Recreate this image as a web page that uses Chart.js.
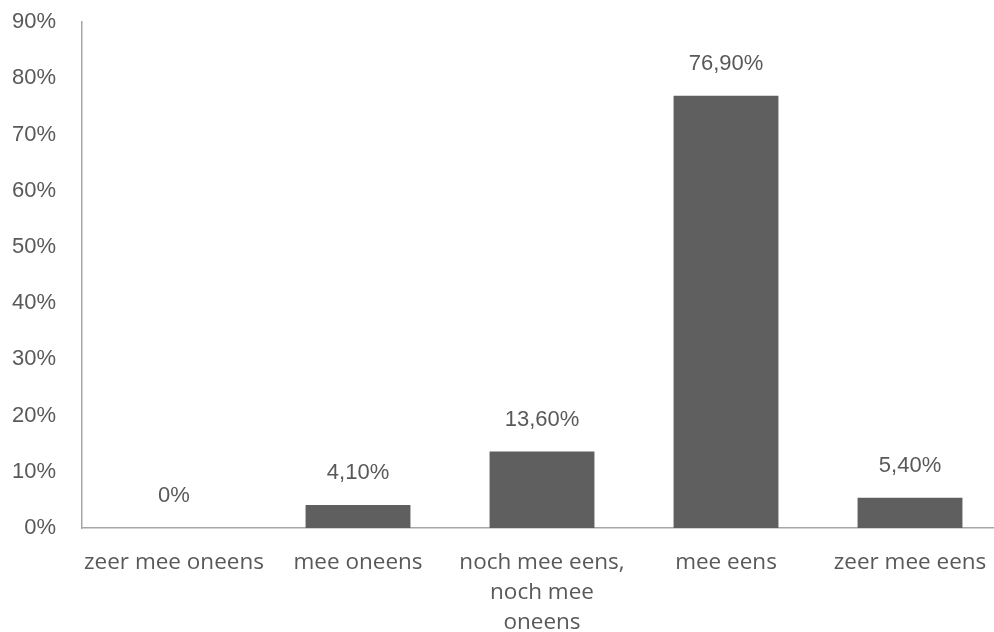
<!DOCTYPE html>
<html lang="nl">
<head>
  <meta charset="UTF-8" />
  <title>Mee eens / oneens</title>
  <script src="https://cdn.jsdelivr.net/npm/chart.js"></script>
  <style>
    html, body { margin: 0; padding: 0; background: #fff; overflow: hidden; }
    .frame { width: 994px; height: 632px; overflow: hidden; }
    .wrap { width: 1010px; height: 632px; position: relative; }
  </style>
</head>
<body>
  <div class="frame"><div class="wrap"><canvas id="barChart"></canvas></div></div>
  <script>
    const categories = ["zeer mee oneens", "mee oneens", ["noch mee eens,", "noch mee", "oneens"], "mee eens", "zeer mee eens"];
    const percentages = [0, 4.1, 13.6, 76.9, 5.4];
    const yTicks = [0, 10, 20, 30, 40, 50, 60, 70, 80, 90];

    const textColor = '#595959';
    const axisColor = '#a6a6a6';

    function fmt(v) {
      return v === 0 ? '0%' : v.toFixed(2).replace('.', ',') + '%';
    }

    // value above each bar
    const valueLabels = {
      id: 'valueLabels',
      afterDatasetsDraw(chart) {
        const ctx = chart.ctx;
        const meta = chart.getDatasetMeta(0);
        ctx.save();
        ctx.font = '22px "Liberation Sans"';
        ctx.fillStyle = textColor;
        ctx.textAlign = 'center';
        ctx.textBaseline = 'middle';
        meta.data.forEach((bar, i) => {
          ctx.fillText(fmt(percentages[i]), bar.x, bar.y - 32);
        });
        ctx.restore();
      }
    };

    const ctx = document.getElementById("barChart").getContext("2d");
    new Chart(ctx, {
      type: "bar",
      data: {
        labels: categories,
        datasets: [{
          data: percentages,
          backgroundColor: '#5f5f5f',
          barPercentage: 0.57,
          categoryPercentage: 1
        }]
      },
      options: {
        responsive: true,
        maintainAspectRatio: false,
        animation: false,
        layout: { padding: { top: 22, right: 8, left: 0, bottom: 0 } },
        plugins: {
          legend: { display: false },
          tooltip: { enabled: false }
        },
        scales: {
          x: {
            grid: { display: false, drawTicks: false },
            border: { display: true, color: axisColor, width: 1.5 },
            ticks: {
              color: textColor,
              font: { family: 'Open Sans', size: 22.5, lineHeight: 1.33 },
              padding: 20,
              maxRotation: 0,
              autoSkip: false
            },
            afterFit(scale) {
              scale.height = 104;
              scale.paddingLeft = 0;
              scale.paddingRight = 0;
            }
          },
          y: {
            min: 0,
            max: 90,
            afterBuildTicks(scale) { scale.ticks = yTicks.map(v => ({ value: v })); },
            grid: { display: false, drawTicks: false },
            border: { display: true, color: axisColor, width: 1.5 },
            ticks: {
              color: textColor,
              font: { family: 'Liberation Sans', size: 22 },
              padding: 26,
              callback: v => v + '%'
            },
            afterFit(scale) {
              scale.width = 82;
              scale.paddingTop = 0;
              scale.paddingBottom = 0;
            }
          }
        }
      },
      plugins: [valueLabels]
    });
  </script>
</body>
</html>
